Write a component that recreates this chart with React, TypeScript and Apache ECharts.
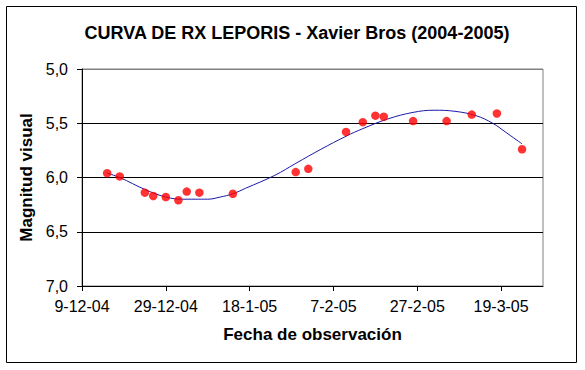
import React, { useEffect, useRef } from "react";
import * as echarts from "echarts";

const obsDates = [
  "2004-12-15", "2004-12-18", "2004-12-24", "2004-12-26", "2004-12-29", "2005-01-01",
  "2005-01-03", "2005-01-06", "2005-01-14", "2005-01-29", "2005-02-01", "2005-02-10",
  "2005-02-14", "2005-02-17", "2005-02-19", "2005-02-26", "2005-03-06", "2005-03-12",
  "2005-03-18", "2005-03-24",
];
const obsMagnitudes = [
  5.96, 5.99, 6.14, 6.17, 6.18, 6.21,
  6.13, 6.14, 6.15, 5.95, 5.92, 5.58,
  5.49, 5.43, 5.44, 5.48, 5.48, 5.42,
  5.41, 5.74,
];

const trendDates = [
  "2004-12-15", "2004-12-18", "2004-12-24", "2004-12-29", "2005-01-02", "2005-01-05",
  "2005-01-08", "2005-01-11", "2005-01-14", "2005-01-17", "2005-01-24", "2005-01-29",
  "2005-02-04", "2005-02-10", "2005-02-14", "2005-02-20", "2005-02-26", "2005-03-03",
  "2005-03-08", "2005-03-13", "2005-03-17", "2005-03-20", "2005-03-24",
];
const trendMagnitudes = [
  5.96, 6.0, 6.11, 6.18, 6.2, 6.2,
  6.2, 6.18, 6.15, 6.1, 5.98, 5.87,
  5.74, 5.62, 5.55, 5.46, 5.4, 5.38,
  5.39, 5.43, 5.5, 5.58, 5.69,
];

const xTickLabels = ["9-12-04", "29-12-04", "18-1-05", "7-2-05", "27-2-05", "19-3-05"];
const startDate = "2004-12-09";
const xMaxDays = 110;
const xTickStep = 20;

const yMin = 5;
const yMax = 7;
const yStep = 0.5;

const DAY = 86400000;
const toDays = (d: string) => (Date.parse(d) - Date.parse(startDate)) / DAY;

const FONT = "'Liberation Sans', Arial, sans-serif";

export default function App() {
  const ref = useRef<HTMLDivElement>(null);
  useEffect(() => {
    if (!ref.current) return;
    const chart = echarts.init(ref.current, null, { renderer: "svg" });
    chart.setOption({
      animation: false,
      backgroundColor: "#ffffff",
      textStyle: { fontFamily: FONT },
      title: {
        text: "CURVA DE RX LEPORIS - Xavier Bros (2004-2005)",
        left: 292,
        textAlign: "center",
        top: 19,
        textStyle: { fontFamily: FONT, fontSize: 18, fontWeight: "bold", color: "#000" },
      },
      graphic: [
        {
          type: "rect",
          shape: { x: 6.5, y: 6.5, width: 570, height: 356 },
          style: { fill: "none", stroke: "#000", lineWidth: 1 },
          silent: true,
          z: 100,
        },
      ],
      grid: {
        left: 82,
        right: 42,
        top: 69,
        bottom: 84,
        show: true,
        borderColor: "#808080",
        borderWidth: 1,
      },
      xAxis: {
        type: "value",
        min: 0,
        max: xMaxDays,
        interval: xTickStep,
        name: "Fecha de observación",
        nameLocation: "middle",
        nameGap: 40,
        nameTextStyle: { fontFamily: FONT, fontSize: 17, fontWeight: "bold", color: "#000" },
        axisLine: { show: true, lineStyle: { color: "#000", width: 1 } },
        axisTick: { show: true, length: 5, lineStyle: { color: "#000" } },
        axisLabel: {
          fontFamily: FONT,
          fontSize: 16,
          color: "#000",
          margin: 12,
          showMaxLabel: false,
          formatter: (v: number) => {
            const i = Math.round(v / xTickStep);
            return xTickLabels[i] ?? "";
          },
        },
        splitLine: { show: false },
      },
      yAxis: {
        type: "value",
        inverse: true,
        min: yMin,
        max: yMax,
        interval: yStep,
        name: "Magnitud visual",
        nameLocation: "middle",
        nameGap: 42,
        nameTextStyle: { fontFamily: FONT, fontSize: 17, fontWeight: "bold", color: "#000" },
        axisLine: { show: true, lineStyle: { color: "#000", width: 1 } },
        axisTick: { show: true, length: 5, lineStyle: { color: "#000" } },
        axisLabel: {
          fontFamily: FONT,
          fontSize: 16,
          color: "#000",
          margin: 14,
          formatter: (v: number) => v.toFixed(1).replace(".", ","),
        },
        splitLine: {
          show: true,
          lineStyle: { color: ["#808080", "#000", "#000", "#000", "#000"], width: 1 },
        },
      },
      series: [
        {
          type: "line",
          name: "Tendencia",
          data: trendDates.map((d, i) => [toDays(d), trendMagnitudes[i]]),
          smooth: 0.4,
          showSymbol: false,
          symbol: "none",
          lineStyle: { color: "#1a1aa8", width: 1 },
          z: 2,
        },
        {
          type: "scatter",
          name: "Observaciones",
          data: obsDates.map((d, i) => [toDays(d), obsMagnitudes[i]]),
          symbol: "circle",
          symbolSize: 8.5,
          itemStyle: { color: "#ff0000" },
          z: 3,
        },
      ],
    });
    return () => chart.dispose();
  }, []);
  return <div ref={ref} style={{ width: 585, height: 370, position: "absolute", left: 0, top: 0 }} />;
}
